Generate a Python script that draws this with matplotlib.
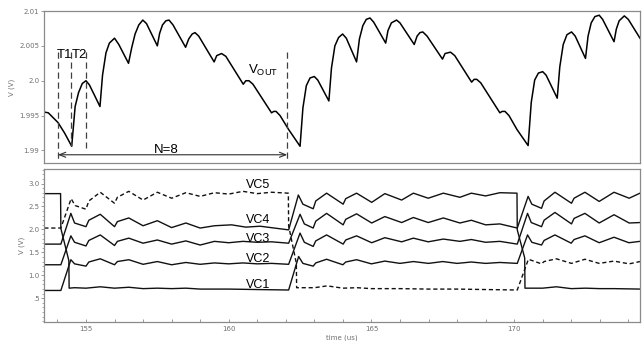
import matplotlib
matplotlib.use('Agg')
import matplotlib.pyplot as plt
from matplotlib.ticker import FixedLocator, MultipleLocator

plt.rcParams['mathtext.fontset'] = 'custom'
plt.rcParams['mathtext.rm'] = 'Liberation Sans'

# ---- top panel: output voltage (us, V) ----
vout_t = [153.54, 153.68, 153.85, 154.02, 154.25, 154.50, 154.62, 154.74, 154.87, 155.00,
          155.12, 155.30, 155.49, 155.58, 155.70, 155.82, 156.00, 156.15, 156.49, 156.60,
          156.72, 156.85, 156.99, 157.12, 157.50, 157.58, 157.68, 157.80, 157.91, 158.05,
          158.49, 158.60, 158.72, 158.82, 158.95, 159.49, 159.58, 159.75, 159.90, 160.51,
          160.60, 160.71, 160.85, 161.50, 161.58, 161.66, 161.80, 162.10, 162.50, 162.60,
          162.72, 162.85, 163.00, 163.12, 163.51, 163.60, 163.72, 163.85, 163.99, 164.12,
          164.48, 164.58, 164.70, 164.82, 164.95, 165.08, 165.50, 165.58, 165.70, 165.88,
          166.00, 166.50, 166.60, 166.70, 166.80, 166.95, 167.49, 167.58, 167.77, 167.92,
          168.51, 168.60, 168.69, 168.83, 169.50, 169.58, 169.68, 169.82, 170.10, 170.49,
          170.60, 170.72, 170.85, 171.00, 171.12, 171.51, 171.60, 171.72, 171.85, 172.01,
          172.14, 172.50, 172.59, 172.70, 172.83, 172.98, 173.10, 173.50, 173.58, 173.68,
          173.86, 174.00, 174.41]
vout_v = [1.9955, 1.9954, 1.9947, 1.9940, 1.9925, 1.9906, 1.9963, 1.9983, 1.9996, 2.0000,
          1.9994, 1.9979, 1.9963, 2.0008, 2.0040, 2.0054, 2.0061, 2.0052, 2.0025, 2.0047,
          2.0067, 2.0080, 2.0087, 2.0082, 2.0050, 2.0068, 2.0080, 2.0086, 2.0087, 2.0080,
          2.0048, 2.0060, 2.0067, 2.0069, 2.0064, 2.0027, 2.0036, 2.0039, 2.0035, 1.9995,
          2.0000, 2.0000, 1.9995, 1.9954, 1.9956, 1.9956, 1.9950, 1.9930, 1.9906, 1.9961,
          1.9993, 2.0004, 2.0006, 2.0001, 1.9971, 2.0018, 2.0050, 2.0062, 2.0067, 2.0061,
          2.0027, 2.0060, 2.0079, 2.0088, 2.0090, 2.0084, 2.0054, 2.0072, 2.0083, 2.0087,
          2.0083, 2.0052, 2.0064, 2.0069, 2.0070, 2.0064, 2.0031, 2.0039, 2.0041, 2.0036,
          1.9998, 2.0002, 2.0002, 1.9997, 1.9954, 1.9956, 1.9956, 1.9950, 1.9930, 1.9907,
          1.9969, 2.0001, 2.0011, 2.0013, 2.0008, 1.9975, 2.0020, 2.0052, 2.0066, 2.0070,
          2.0064, 2.0032, 2.0064, 2.0083, 2.0092, 2.0094, 2.0088, 2.0056, 2.0074, 2.0086,
          2.0093, 2.0088, 2.0061]

# ---- bottom panel: capacitor voltages ----
vc1_t = [153.54, 154.11, 154.12, 154.40, 154.41, 154.6, 155.0, 155.5, 156.0, 156.5, 157.0, 157.5,
         158.0, 158.5, 159.0, 160.0, 161.0, 162.10, 162.45, 162.6, 162.96, 163.05, 163.43, 164.0,
         164.1, 164.48, 165.0, 165.47, 166.0, 166.47, 167.0, 167.5, 168.0, 168.5, 169.0, 169.5,
         170.11, 170.47, 170.62, 170.96, 171.05, 171.43, 172.0, 172.1, 172.48, 172.98, 173.5,
         174.02, 174.41]
vc1_v = [2.78, 2.78, 2.02, 1.32, 0.72, 0.73, 0.72, 0.75, 0.72, 0.74, 0.71, 0.72,
         0.71, 0.72, 0.70, 0.70, 0.69, 0.68, 1.41, 1.26, 1.20, 1.27, 1.35, 1.23,
         1.29, 1.34, 1.25, 1.31, 1.26, 1.30, 1.26, 1.30, 1.26, 1.29, 1.26, 1.28,
         1.26, 1.88, 1.72, 1.66, 1.76, 1.88, 1.70, 1.78, 1.86, 1.71, 1.83,
         1.71, 1.74]

vc2_t = [153.54, 154.12, 154.47, 154.6, 155.0, 155.1, 155.5, 156.0, 156.1, 156.5, 157.0, 157.5,
         158.0, 158.5, 159.0, 159.5, 160.0, 160.5, 161.0, 161.5, 162.10, 162.50, 162.65, 162.96,
         163.05, 163.43, 164.01, 164.1, 164.48, 165.01, 165.47, 166.06, 166.47, 166.99, 167.52,
         168.1, 168.5, 169.0, 169.5, 170.11, 170.47, 170.6, 170.96, 171.05, 171.43, 172.01,
         172.1, 172.48, 172.98, 173.5, 174.03, 174.41]
vc2_v = [0.67, 0.67, 1.34, 1.25, 1.20, 1.29, 1.36, 1.23, 1.30, 1.34, 1.24, 1.30,
         1.23, 1.28, 1.24, 1.27, 1.25, 1.27, 1.25, 1.26, 1.24, 1.92, 1.72, 1.63,
         1.75, 1.88, 1.68, 1.77, 1.86, 1.71, 1.82, 1.73, 1.81, 1.73, 1.79,
         1.74, 1.78, 1.72, 1.74, 1.68, 2.35, 2.15, 2.06, 2.20, 2.37, 2.12,
         2.24, 2.35, 2.14, 2.32, 2.14, 2.15]

vc3_t = [153.54, 154.12, 154.47, 154.6, 155.0, 155.1, 155.5, 156.0, 156.1, 156.5, 157.0, 157.5,
         158.0, 158.5, 159.0, 159.5, 160.0, 160.5, 161.0, 161.5, 162.10, 162.50, 162.65, 162.96,
         163.05, 163.43, 164.01, 164.1, 164.48, 165.01, 165.47, 166.06, 166.47, 166.99, 167.52,
         168.1, 168.5, 169.0, 169.5, 170.11, 170.49, 170.62, 170.96, 171.05, 171.43, 172.01,
         172.1, 172.48, 172.98, 173.5, 174.03, 174.41]
vc3_v = [1.23, 1.23, 1.86, 1.72, 1.64, 1.76, 1.88, 1.65, 1.74, 1.81, 1.70, 1.77,
         1.68, 1.75, 1.66, 1.74, 1.71, 1.74, 1.72, 1.73, 1.70, 2.33, 2.12, 2.03,
         2.18, 2.35, 2.10, 2.22, 2.34, 2.14, 2.28, 2.15, 2.26, 2.15, 2.25,
         2.14, 2.20, 2.10, 2.12, 2.03, 2.72, 2.55, 2.46, 2.62, 2.81, 2.57,
         2.68, 2.81, 2.61, 2.81, 2.68, 2.79]

vc4_t = [153.54, 154.12, 154.47, 154.6, 155.0, 155.1, 155.5, 156.0, 156.1, 156.5, 157.0, 157.5,
         158.0, 158.5, 159.0, 159.5, 160.1, 160.6, 161.1, 161.6, 162.10, 162.44, 162.6, 162.96,
         163.05, 163.43, 164.01, 164.1, 164.48, 165.01, 165.47, 166.06, 166.47, 166.99, 167.52,
         168.1, 168.5, 169.0, 169.5, 170.10, 170.11, 170.37, 170.38, 170.6, 171.0, 171.48,
         172.0, 172.5, 173.0, 173.5, 174.41]
vc4_v = [1.68, 1.68, 2.35, 2.14, 2.06, 2.20, 2.33, 2.06, 2.17, 2.25, 2.08, 2.19,
         2.04, 2.14, 2.03, 2.08, 2.10, 2.05, 2.07, 2.03, 1.99, 2.75, 2.55, 2.45,
         2.62, 2.79, 2.55, 2.67, 2.79, 2.59, 2.78, 2.64, 2.79, 2.68, 2.79,
         2.70, 2.79, 2.73, 2.80, 2.79, 1.99, 1.38, 0.72, 0.72, 0.72, 0.75,
         0.71, 0.72, 0.71, 0.71, 0.70]

vc5_t = [153.54, 154.12, 154.48, 154.62, 155.0, 155.1, 155.5, 156.0, 156.1, 156.5, 157.0, 157.5,
         158.0, 158.5, 159.0, 159.5, 160.0, 160.5, 161.0, 161.5, 162.09, 162.10, 162.37, 162.38,
         162.6, 163.0, 163.45, 164.0, 164.5, 165.0, 166.0, 167.0, 168.0, 169.0, 170.11, 170.50,
         170.96, 171.05, 171.48, 172.01, 172.48, 172.98, 173.5, 174.03, 174.41]
vc5_v = [2.03, 2.03, 2.67, 2.52, 2.44, 2.62, 2.81, 2.57, 2.70, 2.83, 2.64, 2.81,
         2.68, 2.80, 2.72, 2.80, 2.77, 2.83, 2.78, 2.81, 2.79, 2.08, 1.26, 0.73,
         0.73, 0.73, 0.77, 0.72, 0.73, 0.71, 0.71, 0.70, 0.70, 0.69, 0.68, 1.35,
         1.25, 1.30, 1.36, 1.26, 1.35, 1.26, 1.31, 1.25, 1.30]

cap_labels = ['VC5', 'VC4', 'VC3', 'VC2', 'VC1']
cap_label_v = [2.90, 2.136, 1.735, 1.30, 0.72]

top_ticks = [1.99, 1.995, 2.0, 2.005, 2.01]
top_tick_labels = ['1.99', '1.995', '2.0', '2.005', '2.01']
bot_ticks = [0.5, 1.0, 1.5, 2.0, 2.5, 3.0]
bot_tick_labels = ['.5', '1.0', '1.5', '2.0', '2.5', '3.0']
x_ticks = [155, 160, 165, 170]

# phase markers
t_marks = [154.02, 154.49, 154.99, 162.05]
t_mark_bottom = [1.9887, 1.9906, 1.9903, 1.9887]

tick_gray = '#707070'
spine_gray = '#8a8a8a'
txt_font = 'Liberation Sans'

fig = plt.figure(figsize=(6.44, 3.41), dpi=100)
ax1 = fig.add_axes([0.0688, 0.522, 0.925, 0.4457])
ax2 = fig.add_axes([0.0688, 0.0548, 0.925, 0.4487])

# top panel
ax1.plot(vout_t, vout_v, color='black', lw=1.1)
ax1.set_xlim(153.54, 174.41)
ax1.set_ylim(1.9882, 2.01)
ax1.yaxis.set_major_locator(FixedLocator(top_ticks))
ax1.set_yticklabels(top_tick_labels)
ax1.tick_params(axis='x', bottom=False, labelbottom=False)
ax1.set_ylabel('V (V)', fontsize=5, color=tick_gray, labelpad=3)

for i, (t, vb) in enumerate(zip(t_marks, t_mark_bottom)):
    ax1.plot([t, t], [2.00415, vb], color='#404040', lw=0.9, ls=(0, (5, 3)))
ax1.text(154.24, 2.0032, 'T1', fontsize=9.5, family=txt_font, ha='center', va='baseline')
ax1.text(154.76, 2.0032, 'T2', fontsize=9.5, family=txt_font, ha='center', va='baseline')
ax1.annotate('', xy=(t_marks[0], 1.98938), xytext=(t_marks[3], 1.98938),
             arrowprops=dict(arrowstyle='<->,head_length=0.45,head_width=0.18',
                             color='#303030', lw=0.8, shrinkA=0, shrinkB=0))
ax1.text(157.82, 1.98965, 'N=8', fontsize=9.5, family=txt_font, ha='center', va='baseline')
ax1.text(160.68, 2.00098, r'V$_{\mathrm{OUT}}$', fontsize=9.5, family=txt_font,
         ha='left', va='baseline')

# bottom panel
ax2.plot(vc1_t, vc1_v, color='#111111', lw=1.0)
ax2.plot(vc2_t, vc2_v, color='#111111', lw=1.0)
ax2.plot(vc3_t, vc3_v, color='#111111', lw=1.0)
ax2.plot(vc4_t, vc4_v, color='#111111', lw=1.0)
ax2.plot(vc5_t, vc5_v, color='#111111', lw=1.0, ls=(0, (3, 2)))
for lab, v in zip(cap_labels, cap_label_v):
    ax2.text(161.04, v, lab, fontsize=9, family=txt_font, ha='center', va='baseline')

ax2.set_xlim(153.54, 174.41)
ax2.set_ylim(-0.024, 3.31)
ax2.xaxis.set_major_locator(FixedLocator(x_ticks))
ax2.xaxis.set_minor_locator(MultipleLocator(1))
ax2.yaxis.set_major_locator(FixedLocator(bot_ticks))
ax2.set_yticklabels(bot_tick_labels)
ax2.yaxis.set_minor_locator(MultipleLocator(0.1))
ax2.set_xlabel('time (us)', fontsize=5, color=tick_gray, labelpad=1.5)
ax2.set_ylabel('V (V)', fontsize=5, color=tick_gray, labelpad=2)
ax2.tick_params(axis='x', which='both', direction='in', length=2.5, width=0.6,
                colors=spine_gray, labelcolor=tick_gray, labelsize=5, pad=3)

for ax in (ax1, ax2):
    ax.tick_params(axis='y', which='major', direction='out', length=2.5, width=0.6,
                   colors=spine_gray, labelcolor=tick_gray, labelsize=5, pad=1)
    ax.tick_params(axis='y', which='minor', direction='out', length=1.2, width=0.5,
                   colors=spine_gray)
    for s in ax.spines.values():
        s.set_color(spine_gray)
        s.set_linewidth(0.9)

fig.savefig('out.png', dpi=100)
